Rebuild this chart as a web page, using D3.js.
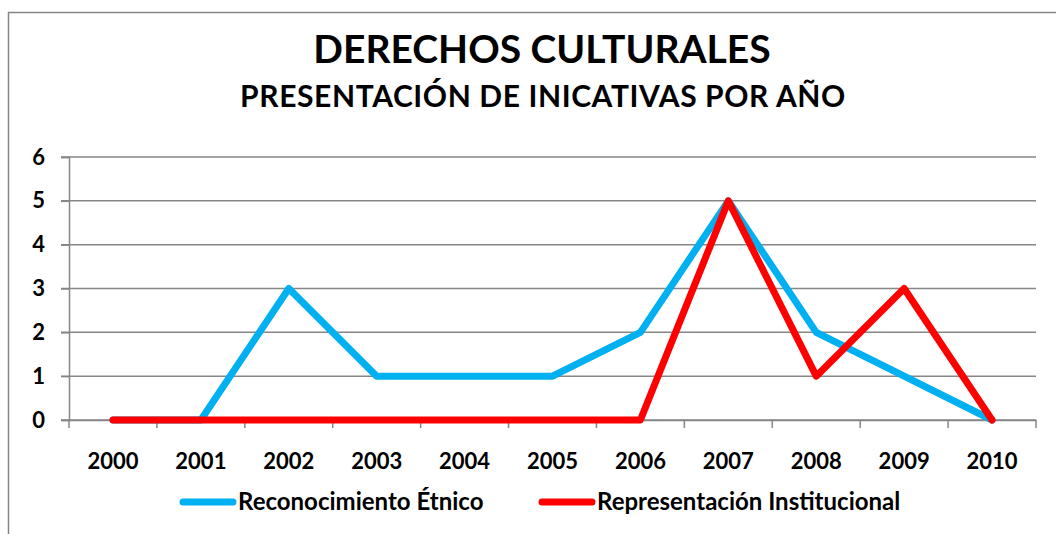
<html>
<body style="margin:0;background:#fff">
<svg width="1056" height="534"></svg>
</body>
<style>
  text { font-family: Lato, "Open Sans", sans-serif; font-weight: bold; fill: #000; }
  .grid line { stroke: #868686; stroke-width: 1.5; }
</style>
<script src="https://d3js.org/d3.v7.min.js"></script>
<script>
var years = ["2000","2001","2002","2003","2004","2005","2006","2007","2008","2009","2010"];
var etnico = [0,0,3,1,1,1,2,5,2,1,0];
var institucional = [0,0,0,0,0,0,0,5,1,3,0];
var yTicks = [0,1,2,3,4,5,6];
var seriesNames = ["Reconocimiento Étnico", "Representación Institucional"];
var colors = ["#00B0F0", "#FF0000"];

var svg = d3.select("svg");

// chart frame
svg.append("rect")
  .attr("x", 8.5).attr("y", 12.5)
  .attr("width", 1100).attr("height", 600)
  .attr("fill", "none").attr("stroke", "#868686").attr("stroke-width", 1.5);

var margin = {top: 157, left: 69, right: 1036, bottom: 420};

var x = d3.scaleBand().domain(years).range([margin.left, margin.right]);
var y = d3.scaleLinear().domain([0, 6]).range([margin.bottom, margin.top]);

svg.append("text")
  .attr("x", 542).attr("y", 63)
  .attr("text-anchor", "middle")
  .style("font-size", "39px")
  .text("DERECHOS CULTURALES");

svg.append("text")
  .attr("x", 543).attr("y", 107)
  .attr("text-anchor", "middle")
  .style("font-size", "30px")
  .style("letter-spacing", "0.6px")
  .text("PRESENTACIÓN DE INICATIVAS POR AÑO");

// horizontal grid
svg.append("g").attr("class", "grid")
  .selectAll("line").data(yTicks).enter().append("line")
  .attr("x1", margin.left - 8).attr("x2", margin.right)
  .attr("y1", function(d) { return y(d); })
  .attr("y2", function(d) { return y(d); });

// y axis
var yAxis = svg.append("g")
  .attr("transform", "translate(" + margin.left + ",0)")
  .call(d3.axisLeft(y).tickValues(yTicks).tickSize(8).tickFormat(d3.format("d")));
yAxis.select(".domain").attr("stroke", "#868686").attr("stroke-width", 1.5);
yAxis.selectAll(".tick line").attr("stroke", "#868686").attr("stroke-width", 1.5);
yAxis.selectAll(".tick text").attr("x", -24).style("font-size", "22px");

// x axis
var xAxis = svg.append("g")
  .attr("transform", "translate(0," + margin.bottom + ")")
  .call(d3.axisBottom(x).tickSize(0));
xAxis.select(".domain").attr("stroke", "#868686").attr("stroke-width", 1.5);
xAxis.selectAll(".tick text").attr("y", 33).style("font-size", "22px");
svg.append("g").selectAll("line")
  .data(years.concat(["end"])).enter().append("line")
  .attr("x1", function(d, i) { return margin.left + i * x.step(); })
  .attr("x2", function(d, i) { return margin.left + i * x.step(); })
  .attr("y1", margin.bottom).attr("y2", margin.bottom + 8)
  .attr("stroke", "#868686").attr("stroke-width", 1.5);

var line = d3.line()
  .x(function(d, i) { return x(years[i]) + x.bandwidth() / 2; })
  .y(function(d) { return y(d); });

[etnico, institucional].forEach(function(s, k) {
  svg.append("path")
    .datum(s)
    .attr("d", line)
    .attr("fill", "none")
    .attr("stroke", colors[k])
    .attr("stroke-width", 7)
    .attr("stroke-linejoin", "round")
    .attr("stroke-linecap", "round");
});

// legend
var legendX = [183, 542];
seriesNames.forEach(function(n, k) {
  var g = svg.append("g").attr("transform", "translate(" + legendX[k] + ",502)");
  g.append("line").attr("x1", 0).attr("x2", 50)
    .attr("stroke", colors[k]).attr("stroke-width", 7).attr("stroke-linecap", "round");
  g.append("text").attr("x", 55).attr("y", 8).style("font-size", "24px").text(n);
});
</script>
</html>
